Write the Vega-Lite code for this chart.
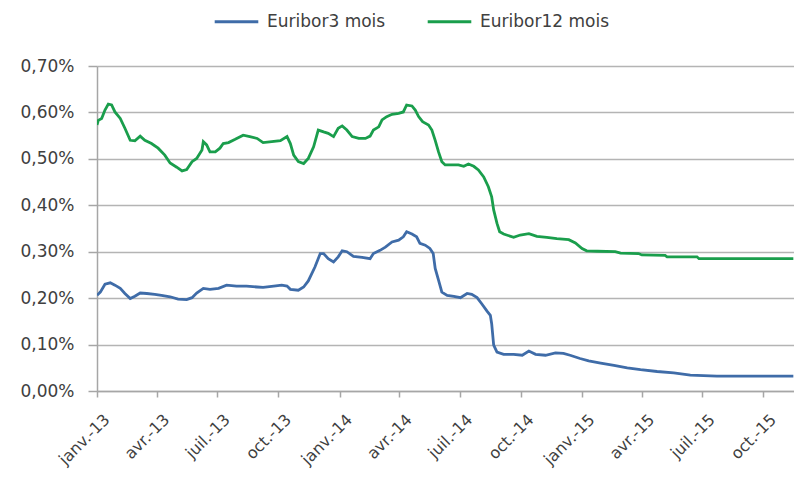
{
  "$schema": "https://vega.github.io/schema/vega-lite/v6.json",
  "width": 697,
  "height": 325,
  "autosize": {"type": "none"},
  "padding": {"left": 97, "top": 66, "right": 0, "bottom": 92},
  "background": "white",
  "config": {
    "view": {"stroke": null},
    "font": "DejaVu Sans"
  },
  "datasets": {
    "euribor": [
      {"date": "2013-01-01", "serie": "Euribor12 mois", "taux": 0.573},
      {"date": "2013-01-03", "serie": "Euribor12 mois", "taux": 0.583},
      {"date": "2013-01-08", "serie": "Euribor12 mois", "taux": 0.587},
      {"date": "2013-01-13", "serie": "Euribor12 mois", "taux": 0.605},
      {"date": "2013-01-18", "serie": "Euribor12 mois", "taux": 0.618},
      {"date": "2013-01-23", "serie": "Euribor12 mois", "taux": 0.616},
      {"date": "2013-01-28", "serie": "Euribor12 mois", "taux": 0.601},
      {"date": "2013-02-05", "serie": "Euribor12 mois", "taux": 0.587},
      {"date": "2013-02-12", "serie": "Euribor12 mois", "taux": 0.566},
      {"date": "2013-02-20", "serie": "Euribor12 mois", "taux": 0.540},
      {"date": "2013-02-27", "serie": "Euribor12 mois", "taux": 0.539},
      {"date": "2013-03-07", "serie": "Euribor12 mois", "taux": 0.549},
      {"date": "2013-03-14", "serie": "Euribor12 mois", "taux": 0.540},
      {"date": "2013-03-24", "serie": "Euribor12 mois", "taux": 0.533},
      {"date": "2013-04-03", "serie": "Euribor12 mois", "taux": 0.523},
      {"date": "2013-04-13", "serie": "Euribor12 mois", "taux": 0.508},
      {"date": "2013-04-21", "serie": "Euribor12 mois", "taux": 0.491},
      {"date": "2013-05-01", "serie": "Euribor12 mois", "taux": 0.482},
      {"date": "2013-05-09", "serie": "Euribor12 mois", "taux": 0.474},
      {"date": "2013-05-16", "serie": "Euribor12 mois", "taux": 0.477},
      {"date": "2013-05-24", "serie": "Euribor12 mois", "taux": 0.494},
      {"date": "2013-05-31", "serie": "Euribor12 mois", "taux": 0.501},
      {"date": "2013-06-08", "serie": "Euribor12 mois", "taux": 0.519},
      {"date": "2013-06-10", "serie": "Euribor12 mois", "taux": 0.537},
      {"date": "2013-06-15", "serie": "Euribor12 mois", "taux": 0.530},
      {"date": "2013-06-20", "serie": "Euribor12 mois", "taux": 0.515},
      {"date": "2013-06-28", "serie": "Euribor12 mois", "taux": 0.515},
      {"date": "2013-07-05", "serie": "Euribor12 mois", "taux": 0.523},
      {"date": "2013-07-10", "serie": "Euribor12 mois", "taux": 0.533},
      {"date": "2013-07-18", "serie": "Euribor12 mois", "taux": 0.535},
      {"date": "2013-07-28", "serie": "Euribor12 mois", "taux": 0.542},
      {"date": "2013-08-09", "serie": "Euribor12 mois", "taux": 0.551},
      {"date": "2013-08-19", "serie": "Euribor12 mois", "taux": 0.548},
      {"date": "2013-08-30", "serie": "Euribor12 mois", "taux": 0.544},
      {"date": "2013-09-08", "serie": "Euribor12 mois", "taux": 0.535},
      {"date": "2013-09-21", "serie": "Euribor12 mois", "taux": 0.537},
      {"date": "2013-10-04", "serie": "Euribor12 mois", "taux": 0.539},
      {"date": "2013-10-14", "serie": "Euribor12 mois", "taux": 0.548},
      {"date": "2013-10-19", "serie": "Euribor12 mois", "taux": 0.533},
      {"date": "2013-10-24", "serie": "Euribor12 mois", "taux": 0.508},
      {"date": "2013-10-31", "serie": "Euribor12 mois", "taux": 0.494},
      {"date": "2013-11-08", "serie": "Euribor12 mois", "taux": 0.490},
      {"date": "2013-11-15", "serie": "Euribor12 mois", "taux": 0.501},
      {"date": "2013-11-23", "serie": "Euribor12 mois", "taux": 0.526},
      {"date": "2013-11-30", "serie": "Euribor12 mois", "taux": 0.562},
      {"date": "2013-12-08", "serie": "Euribor12 mois", "taux": 0.558},
      {"date": "2013-12-15", "serie": "Euribor12 mois", "taux": 0.555},
      {"date": "2013-12-23", "serie": "Euribor12 mois", "taux": 0.548},
      {"date": "2013-12-30", "serie": "Euribor12 mois", "taux": 0.566},
      {"date": "2014-01-05", "serie": "Euribor12 mois", "taux": 0.571},
      {"date": "2014-01-12", "serie": "Euribor12 mois", "taux": 0.562},
      {"date": "2014-01-20", "serie": "Euribor12 mois", "taux": 0.548},
      {"date": "2014-01-30", "serie": "Euribor12 mois", "taux": 0.544},
      {"date": "2014-02-09", "serie": "Euribor12 mois", "taux": 0.544},
      {"date": "2014-02-16", "serie": "Euribor12 mois", "taux": 0.549},
      {"date": "2014-02-21", "serie": "Euribor12 mois", "taux": 0.562},
      {"date": "2014-03-01", "serie": "Euribor12 mois", "taux": 0.569},
      {"date": "2014-03-06", "serie": "Euribor12 mois", "taux": 0.584},
      {"date": "2014-03-13", "serie": "Euribor12 mois", "taux": 0.591},
      {"date": "2014-03-21", "serie": "Euribor12 mois", "taux": 0.596},
      {"date": "2014-03-31", "serie": "Euribor12 mois", "taux": 0.598},
      {"date": "2014-04-07", "serie": "Euribor12 mois", "taux": 0.601},
      {"date": "2014-04-12", "serie": "Euribor12 mois", "taux": 0.616},
      {"date": "2014-04-20", "serie": "Euribor12 mois", "taux": 0.614},
      {"date": "2014-04-25", "serie": "Euribor12 mois", "taux": 0.605},
      {"date": "2014-04-30", "serie": "Euribor12 mois", "taux": 0.591},
      {"date": "2014-05-06", "serie": "Euribor12 mois", "taux": 0.580},
      {"date": "2014-05-15", "serie": "Euribor12 mois", "taux": 0.573},
      {"date": "2014-05-20", "serie": "Euribor12 mois", "taux": 0.562},
      {"date": "2014-05-25", "serie": "Euribor12 mois", "taux": 0.540},
      {"date": "2014-05-30", "serie": "Euribor12 mois", "taux": 0.515},
      {"date": "2014-06-04", "serie": "Euribor12 mois", "taux": 0.494},
      {"date": "2014-06-09", "serie": "Euribor12 mois", "taux": 0.487},
      {"date": "2014-06-19", "serie": "Euribor12 mois", "taux": 0.487},
      {"date": "2014-06-29", "serie": "Euribor12 mois", "taux": 0.487},
      {"date": "2014-07-07", "serie": "Euribor12 mois", "taux": 0.484},
      {"date": "2014-07-14", "serie": "Euribor12 mois", "taux": 0.489},
      {"date": "2014-07-22", "serie": "Euribor12 mois", "taux": 0.484},
      {"date": "2014-07-29", "serie": "Euribor12 mois", "taux": 0.476},
      {"date": "2014-08-06", "serie": "Euribor12 mois", "taux": 0.461},
      {"date": "2014-08-13", "serie": "Euribor12 mois", "taux": 0.440},
      {"date": "2014-08-18", "serie": "Euribor12 mois", "taux": 0.418},
      {"date": "2014-08-21", "serie": "Euribor12 mois", "taux": 0.390},
      {"date": "2014-08-26", "serie": "Euribor12 mois", "taux": 0.361},
      {"date": "2014-08-30", "serie": "Euribor12 mois", "taux": 0.343},
      {"date": "2014-09-05", "serie": "Euribor12 mois", "taux": 0.338},
      {"date": "2014-09-20", "serie": "Euribor12 mois", "taux": 0.331},
      {"date": "2014-09-30", "serie": "Euribor12 mois", "taux": 0.336},
      {"date": "2014-10-13", "serie": "Euribor12 mois", "taux": 0.339},
      {"date": "2014-10-25", "serie": "Euribor12 mois", "taux": 0.333},
      {"date": "2014-11-09", "serie": "Euribor12 mois", "taux": 0.331},
      {"date": "2014-11-24", "serie": "Euribor12 mois", "taux": 0.328},
      {"date": "2014-12-12", "serie": "Euribor12 mois", "taux": 0.326},
      {"date": "2014-12-22", "serie": "Euribor12 mois", "taux": 0.319},
      {"date": "2015-01-01", "serie": "Euribor12 mois", "taux": 0.307},
      {"date": "2015-01-08", "serie": "Euribor12 mois", "taux": 0.302},
      {"date": "2015-01-24", "serie": "Euribor12 mois", "taux": 0.301},
      {"date": "2015-02-20", "serie": "Euribor12 mois", "taux": 0.300},
      {"date": "2015-02-28", "serie": "Euribor12 mois", "taux": 0.297},
      {"date": "2015-03-27", "serie": "Euribor12 mois", "taux": 0.296},
      {"date": "2015-04-01", "serie": "Euribor12 mois", "taux": 0.293},
      {"date": "2015-05-06", "serie": "Euribor12 mois", "taux": 0.292},
      {"date": "2015-05-09", "serie": "Euribor12 mois", "taux": 0.289},
      {"date": "2015-06-23", "serie": "Euribor12 mois", "taux": 0.289},
      {"date": "2015-06-26", "serie": "Euribor12 mois", "taux": 0.285},
      {"date": "2015-11-15", "serie": "Euribor12 mois", "taux": 0.285},

      {"date": "2013-01-01", "serie": "Euribor3 mois", "taux": 0.206},
      {"date": "2013-01-06", "serie": "Euribor3 mois", "taux": 0.213},
      {"date": "2013-01-13", "serie": "Euribor3 mois", "taux": 0.230},
      {"date": "2013-01-21", "serie": "Euribor3 mois", "taux": 0.233},
      {"date": "2013-01-28", "serie": "Euribor3 mois", "taux": 0.228},
      {"date": "2013-02-05", "serie": "Euribor3 mois", "taux": 0.221},
      {"date": "2013-02-12", "serie": "Euribor3 mois", "taux": 0.210},
      {"date": "2013-02-20", "serie": "Euribor3 mois", "taux": 0.199},
      {"date": "2013-02-27", "serie": "Euribor3 mois", "taux": 0.204},
      {"date": "2013-03-07", "serie": "Euribor3 mois", "taux": 0.211},
      {"date": "2013-03-17", "serie": "Euribor3 mois", "taux": 0.210},
      {"date": "2013-03-29", "serie": "Euribor3 mois", "taux": 0.208},
      {"date": "2013-04-08", "serie": "Euribor3 mois", "taux": 0.206},
      {"date": "2013-04-21", "serie": "Euribor3 mois", "taux": 0.203},
      {"date": "2013-05-03", "serie": "Euribor3 mois", "taux": 0.198},
      {"date": "2013-05-16", "serie": "Euribor3 mois", "taux": 0.197},
      {"date": "2013-05-24", "serie": "Euribor3 mois", "taux": 0.201},
      {"date": "2013-05-31", "serie": "Euribor3 mois", "taux": 0.211},
      {"date": "2013-06-10", "serie": "Euribor3 mois", "taux": 0.221},
      {"date": "2013-06-20", "serie": "Euribor3 mois", "taux": 0.219},
      {"date": "2013-07-03", "serie": "Euribor3 mois", "taux": 0.221},
      {"date": "2013-07-15", "serie": "Euribor3 mois", "taux": 0.228},
      {"date": "2013-07-30", "serie": "Euribor3 mois", "taux": 0.226},
      {"date": "2013-08-14", "serie": "Euribor3 mois", "taux": 0.226},
      {"date": "2013-08-30", "serie": "Euribor3 mois", "taux": 0.224},
      {"date": "2013-09-08", "serie": "Euribor3 mois", "taux": 0.223},
      {"date": "2013-09-24", "serie": "Euribor3 mois", "taux": 0.226},
      {"date": "2013-10-06", "serie": "Euribor3 mois", "taux": 0.228},
      {"date": "2013-10-14", "serie": "Euribor3 mois", "taux": 0.226},
      {"date": "2013-10-19", "serie": "Euribor3 mois", "taux": 0.219},
      {"date": "2013-10-31", "serie": "Euribor3 mois", "taux": 0.217},
      {"date": "2013-11-08", "serie": "Euribor3 mois", "taux": 0.224},
      {"date": "2013-11-15", "serie": "Euribor3 mois", "taux": 0.237},
      {"date": "2013-11-25", "serie": "Euribor3 mois", "taux": 0.267},
      {"date": "2013-12-03", "serie": "Euribor3 mois", "taux": 0.296},
      {"date": "2013-12-08", "serie": "Euribor3 mois", "taux": 0.296},
      {"date": "2013-12-15", "serie": "Euribor3 mois", "taux": 0.285},
      {"date": "2013-12-23", "serie": "Euribor3 mois", "taux": 0.278},
      {"date": "2013-12-30", "serie": "Euribor3 mois", "taux": 0.289},
      {"date": "2014-01-05", "serie": "Euribor3 mois", "taux": 0.302},
      {"date": "2014-01-12", "serie": "Euribor3 mois", "taux": 0.300},
      {"date": "2014-01-22", "serie": "Euribor3 mois", "taux": 0.290},
      {"date": "2014-02-04", "serie": "Euribor3 mois", "taux": 0.288},
      {"date": "2014-02-16", "serie": "Euribor3 mois", "taux": 0.285},
      {"date": "2014-02-21", "serie": "Euribor3 mois", "taux": 0.296},
      {"date": "2014-03-03", "serie": "Euribor3 mois", "taux": 0.303},
      {"date": "2014-03-11", "serie": "Euribor3 mois", "taux": 0.310},
      {"date": "2014-03-21", "serie": "Euribor3 mois", "taux": 0.321},
      {"date": "2014-03-31", "serie": "Euribor3 mois", "taux": 0.325},
      {"date": "2014-04-07", "serie": "Euribor3 mois", "taux": 0.332},
      {"date": "2014-04-12", "serie": "Euribor3 mois", "taux": 0.343},
      {"date": "2014-04-20", "serie": "Euribor3 mois", "taux": 0.338},
      {"date": "2014-04-27", "serie": "Euribor3 mois", "taux": 0.332},
      {"date": "2014-05-02", "serie": "Euribor3 mois", "taux": 0.318},
      {"date": "2014-05-10", "serie": "Euribor3 mois", "taux": 0.314},
      {"date": "2014-05-17", "serie": "Euribor3 mois", "taux": 0.307},
      {"date": "2014-05-22", "serie": "Euribor3 mois", "taux": 0.296},
      {"date": "2014-05-25", "serie": "Euribor3 mois", "taux": 0.264},
      {"date": "2014-05-30", "serie": "Euribor3 mois", "taux": 0.239},
      {"date": "2014-06-04", "serie": "Euribor3 mois", "taux": 0.213},
      {"date": "2014-06-12", "serie": "Euribor3 mois", "taux": 0.206},
      {"date": "2014-06-22", "serie": "Euribor3 mois", "taux": 0.204},
      {"date": "2014-07-02", "serie": "Euribor3 mois", "taux": 0.201},
      {"date": "2014-07-12", "serie": "Euribor3 mois", "taux": 0.210},
      {"date": "2014-07-19", "serie": "Euribor3 mois", "taux": 0.208},
      {"date": "2014-07-27", "serie": "Euribor3 mois", "taux": 0.201},
      {"date": "2014-08-03", "serie": "Euribor3 mois", "taux": 0.188},
      {"date": "2014-08-11", "serie": "Euribor3 mois", "taux": 0.172},
      {"date": "2014-08-16", "serie": "Euribor3 mois", "taux": 0.163},
      {"date": "2014-08-18", "serie": "Euribor3 mois", "taux": 0.145},
      {"date": "2014-08-21", "serie": "Euribor3 mois", "taux": 0.099},
      {"date": "2014-08-26", "serie": "Euribor3 mois", "taux": 0.084},
      {"date": "2014-09-05", "serie": "Euribor3 mois", "taux": 0.079},
      {"date": "2014-09-20", "serie": "Euribor3 mois", "taux": 0.079},
      {"date": "2014-10-03", "serie": "Euribor3 mois", "taux": 0.077},
      {"date": "2014-10-13", "serie": "Euribor3 mois", "taux": 0.086},
      {"date": "2014-10-23", "serie": "Euribor3 mois", "taux": 0.079},
      {"date": "2014-11-07", "serie": "Euribor3 mois", "taux": 0.077},
      {"date": "2014-11-22", "serie": "Euribor3 mois", "taux": 0.082},
      {"date": "2014-12-04", "serie": "Euribor3 mois", "taux": 0.081},
      {"date": "2014-12-14", "serie": "Euribor3 mois", "taux": 0.077},
      {"date": "2014-12-29", "serie": "Euribor3 mois", "taux": 0.070},
      {"date": "2015-01-11", "serie": "Euribor3 mois", "taux": 0.065},
      {"date": "2015-01-29", "serie": "Euribor3 mois", "taux": 0.060},
      {"date": "2015-02-18", "serie": "Euribor3 mois", "taux": 0.055},
      {"date": "2015-03-10", "serie": "Euribor3 mois", "taux": 0.050},
      {"date": "2015-03-30", "serie": "Euribor3 mois", "taux": 0.046},
      {"date": "2015-04-24", "serie": "Euribor3 mois", "taux": 0.042},
      {"date": "2015-05-19", "serie": "Euribor3 mois", "taux": 0.039},
      {"date": "2015-06-13", "serie": "Euribor3 mois", "taux": 0.034},
      {"date": "2015-07-23", "serie": "Euribor3 mois", "taux": 0.032},
      {"date": "2015-11-15", "serie": "Euribor3 mois", "taux": 0.032}
    ]
  },
  "data": {"name": "euribor"},
  "mark": {"type": "line", "strokeWidth": 2.8, "clip": true},
  "encoding": {
    "x": {
      "field": "date",
      "type": "temporal",
      "scale": {
        "type": "utc",
        "nice": false,
        "domain": [
          {"year": 2013, "month": 1, "date": 1, "utc": true},
          {"year": 2015, "month": 11, "date": 16, "utc": true}
        ]
      },
      "axis": {
        "title": null,
        "grid": false,
        "tickCount": {"interval": "month", "step": 3},
        "labelExpr": "['janv.','févr.','mars','avr.','mai','juin','juil.','août','sept.','oct.','nov.','déc.'][utcmonth(datum.value)] + '-' + utcFormat(datum.value, '%y')",
        "labelAngle": -45,
        "labelAlign": "right",
        "labelBaseline": "top",
        "labelPadding": 14,
        "labelOffset": 4,
        "labelFont": "DejaVu Sans",
        "labelFontSize": 16,
        "labelColor": "#404040",
        "labelOverlap": false,
        "labelFlush": false,
        "domainColor": "#a6a6a6",
        "domainWidth": 1.5,
        "tickColor": "#a6a6a6",
        "tickSize": 6,
        "tickWidth": 1.5
      }
    },
    "y": {
      "field": "taux",
      "type": "quantitative",
      "scale": {"domain": [0, 0.7], "nice": false},
      "axis": {
        "title": null,
        "values": [0, 0.1, 0.2, 0.3, 0.4, 0.5, 0.6, 0.7],
        "labelExpr": "replace(format(datum.value, '.2f'), '.', ',') + '%'",
        "labelFont": "DejaVu Sans",
        "labelFontSize": 17,
        "labelColor": "#404040",
        "labelPadding": 14,
        "grid": true,
        "gridColor": "#b4b4b4",
        "gridWidth": 1.5,
        "domainColor": "#a6a6a6",
        "domainWidth": 1.5,
        "tickColor": "#a6a6a6",
        "tickSize": 9,
        "tickWidth": 1.5
      }
    },
    "color": {
      "field": "serie",
      "type": "nominal",
      "scale": {
        "domain": ["Euribor3 mois", "Euribor12 mois"],
        "range": ["#3f6ca8", "#1a9e4c"]
      },
      "legend": {
        "title": null,
        "orient": "none",
        "direction": "horizontal",
        "legendX": 116,
        "legendY": -68,
        "symbolType": "stroke",
        "symbolSize": 1900,
        "symbolStrokeWidth": 3,
        "labelFont": "DejaVu Sans",
        "labelFontSize": 17,
        "labelColor": "#404040",
        "labelOffset": 7,
        "columnPadding": 35
      }
    }
  }
}
